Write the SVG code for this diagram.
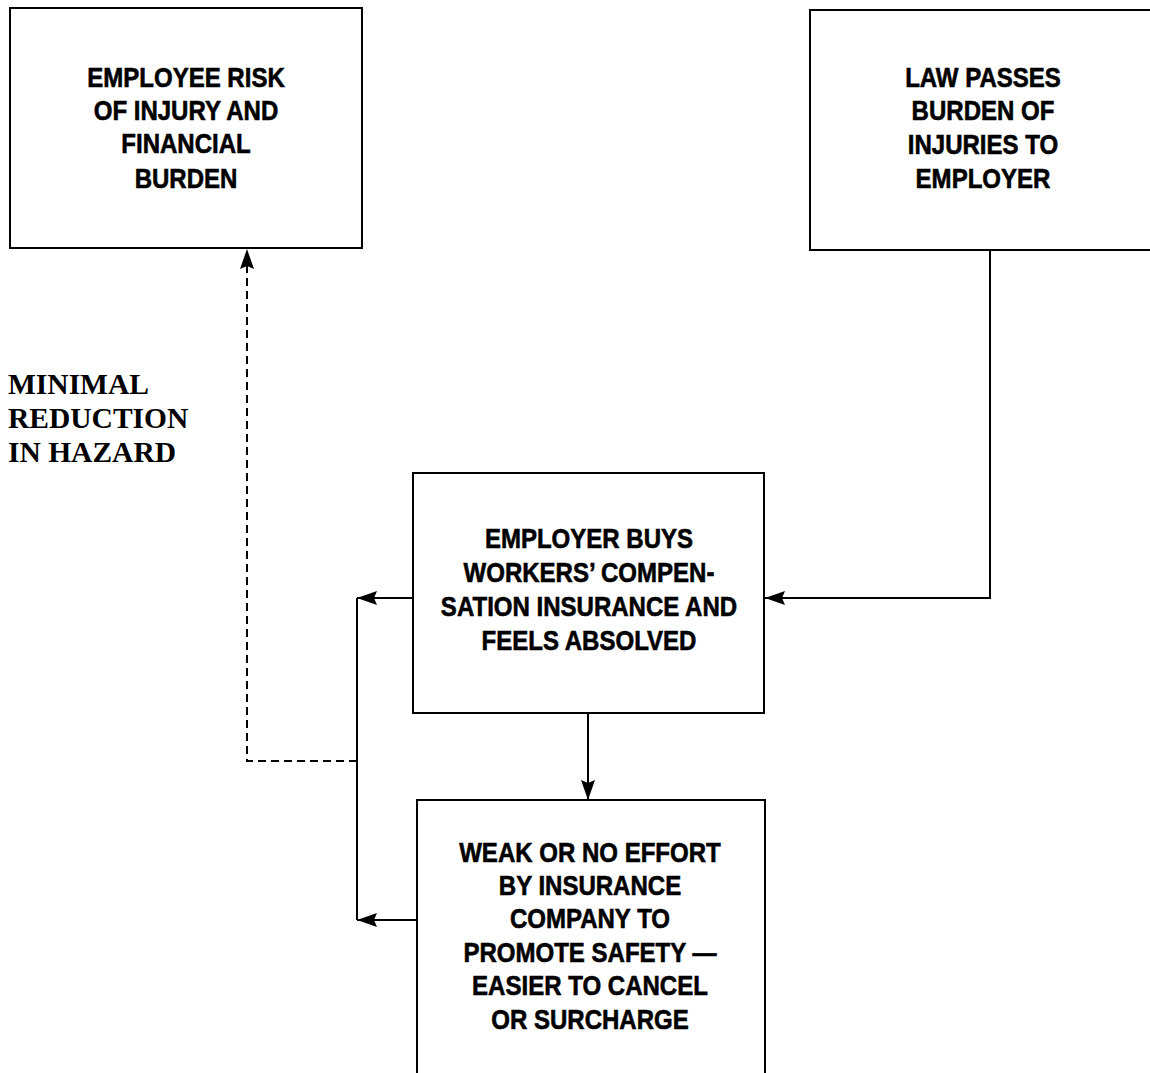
<svg xmlns="http://www.w3.org/2000/svg" width="1150" height="1073" viewBox="0 0 1150 1073">
<defs>
<marker id="ah" markerWidth="20" markerHeight="14" refX="20" refY="7" orient="auto" markerUnits="userSpaceOnUse">
<path d="M0,0 L20,7 L0,14 L3,7 Z" fill="#000"/>
</marker>
<style>
.box{fill:#fff;stroke:#000;stroke-width:2}
.t{font-family:"Liberation Sans",Arial,sans-serif;font-weight:bold;font-size:27px;fill:#000;stroke:#000;stroke-width:0.6;text-anchor:middle}
.s{font-family:"Liberation Serif","Times New Roman",serif;font-weight:bold;font-size:29.5px;fill:#000}
.ln{fill:none;stroke:#000;stroke-width:2}
.dash{fill:none;stroke:#000;stroke-width:2;stroke-dasharray:8,5}
</style>
</defs>
<rect width="1150" height="1073" fill="#fff"/>
<g id="connectors">
<path class="ln" d="M990,250 V598 H765" marker-end="url(#ah)"/>
<path class="ln" d="M413,598 H357" marker-end="url(#ah)"/>
<path class="ln" d="M357,598 V920"/>
<path class="ln" d="M417,920 H357" marker-end="url(#ah)"/>
<path class="ln" d="M588,713 V800" marker-end="url(#ah)"/>
<path class="dash" d="M357,761 H247 V249" marker-end="url(#ah)"/>
</g>
<g id="n1">
<rect class="box" x="10" y="8" width="352" height="240"/>
<g transform="scale(0.89 1)">
<text class="t" x="209" y="87">EMPLOYEE RISK</text>
<text class="t" x="209" y="120">OF INJURY AND</text>
<text class="t" x="209" y="153">FINANCIAL</text>
<text class="t" x="209" y="188">BURDEN</text>
</g>
</g>
<g id="n2">
<rect class="box" x="810" y="10" width="345" height="240"/>
<g transform="scale(0.89 1)">
<text class="t" x="1104.5" y="87">LAW PASSES</text>
<text class="t" x="1104.5" y="120">BURDEN OF</text>
<text class="t" x="1104.5" y="154">INJURIES TO</text>
<text class="t" x="1104.5" y="188">EMPLOYER</text>
</g>
</g>
<g id="n3">
<rect class="box" x="413" y="473" width="351" height="240"/>
<g transform="scale(0.89 1)">
<text class="t" x="661.8" y="548">EMPLOYER BUYS</text>
<text class="t" x="661.8" y="582">WORKERS’ COMPEN-</text>
<text class="t" x="661.8" y="616">SATION INSURANCE AND</text>
<text class="t" x="661.8" y="650">FEELS ABSOLVED</text>
</g>
</g>
<g id="n4">
<rect class="box" x="417" y="800" width="348" height="290"/>
<g transform="scale(0.89 1)">
<text class="t" x="662.9" y="862">WEAK OR NO EFFORT</text>
<text class="t" x="662.9" y="895">BY INSURANCE</text>
<text class="t" x="662.9" y="928">COMPANY TO</text>
<text class="t" x="662.9" y="962">PROMOTE SAFETY —</text>
<text class="t" x="662.9" y="995">EASIER TO CANCEL</text>
<text class="t" x="662.9" y="1029">OR SURCHARGE</text>
</g>
</g>
<g id="label">
<text class="s" x="8" y="394">MINIMAL</text>
<text class="s" x="8" y="428">REDUCTION</text>
<text class="s" x="8" y="462">IN HAZARD</text>
</g>
</svg>
